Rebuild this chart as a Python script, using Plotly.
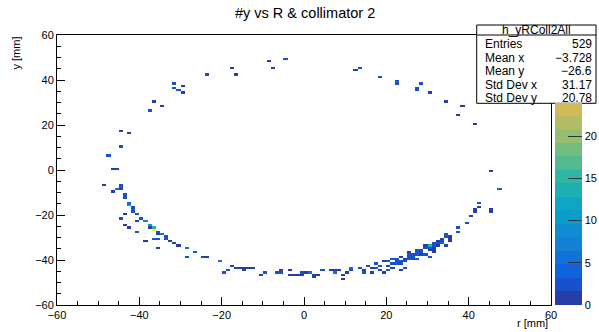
import plotly.graph_objects as go

# ---------------- data (bin centres in mm, bin contents) ----------------
BIN_X = [
    # upper-left arc
    -17.5, -23.5, -16.5, -8.5, -4.5, -7.5, -31.5, -29.5, -31.5, -30.5, -29.5, -36.5, -34.5, -37.5,
    -44.5, -42.5, -44.5, -47.5, -46.5, -45.5,
    # left side / lower-left
    -48.5, -44.5, -44.5, -44.5, -45.5, -46.5, -43.5, -43.5, -43.5, -42.5, -42.5, -41.5, -41.5, -41.5,
    -40.5, -43.5, -44.5, -39.5, -40.5, -38.5, -43.5, -42.5, -37.5, -37.5, -36.5, -36.5, -40.5, -35.5,
    -35.5, -34.5, -33.5, -33.5, -36.5, -35.5, -32.5, -31.5, -30.5, -38.5, -35.5, -28.5, -26.5, -28.5,
    -24.5, -23.5, -20.5,
    # bottom
    -17.5, -18.5, -19.5, -16.5, -15.5, -14.5, -13.5, -12.5, -14.5, -10.5, -9.5, -6.5, -5.5, -5.5,
    -3.5, -3.5, -2.5, -1.5, -0.5, -0.5, 0.5, 1.5, 2.5, 2.5, 3.5, 4.5, 6.5, 7.5, 8.5, 7.5, 9.5, 9.5,
    10.5, 11.5, 11.5, 13.5, 14.5, 14.5, 15.5, 16.5, 16.5,
    # lower-right dense band
    17.5, 17.5, 18.5, 18.5, 19.5, 19.5, 20.5, 20.5, 20.5, 21.5, 21.5, 21.5, 22.5, 22.5, 22.5,
    23.5, 23.5, 23.5, 23.5, 24.5, 24.5, 24.5, 25.5, 25.5, 25.5, 25.5, 26.5, 26.5, 26.5,
    27.5, 27.5, 27.5, 27.5, 28.5, 28.5, 28.5, 29.5, 29.5, 29.5, 30.5, 30.5, 30.5, 30.5,
    31.5, 31.5, 31.5, 31.5, 31.5, 32.5, 32.5, 32.5, 33.5, 33.5, 33.5, 34.5, 34.5, 34.5,
    35.5, 35.5, 35.5, 37.5, 37.5, 39.5, 40.5, 41.5, 41.5, 42.5, 42.5, 45.5, 45.5, 47.5, 45.5,
    # upper-right arc
    12.5, 13.5, 18.5, 22.5, 22.5, 28.5, 27.5, 27.5, 30.5, 34.5, 38.5, 37.5, 41.5,
]
BIN_Y = [
    45.5, 42.5, 42.5, 48.5, 49.5, 45.5, 38.5, 37.5, 36.5, 35.5, 34.5, 30.5, 28.5, 26.5,
    17.5, 16.5, 10.5, 6.5, 0.5, 0.5,
    -6.5, -6.5, -7.5, -8.5, -8.5, -9.5, -10.5, -11.5, -12.5, -14.5, -15.5, -16.5, -17.5, -18.5,
    -19.5, -19.5, -21.5, -21.5, -22.5, -22.5, -24.5, -25.5, -24.5, -25.5, -25.5, -26.5, -27.5, -27.5,
    -28.5, -28.5, -29.5, -30.5, -30.5, -30.5, -31.5, -32.5, -33.5, -31.5, -34.5, -34.5, -36.5, -38.5,
    -38.5, -38.5, -40.5,
    -42.5, -44.5, -45.5, -43.5, -43.5, -43.5, -43.5, -43.5, -44.5, -46.5, -45.5, -45.5, -45.5, -44.5,
    -44.5, -46.5, -46.5, -46.5, -46.5, -45.5, -45.5, -45.5, -47.5, -46.5, -46.5, -44.5, -44.5, -44.5, -44.5, -45.5, -46.5, -48.5,
    -45.5, -43.5, -44.5, -43.5, -44.5, -45.5, -42.5, -43.5, -45.5,
    -41.5, -43.5, -44.5, -42.5, -45.5, -40.5, -42.5, -44.5, -40.5, -43.5, -39.5, -41.5, -39.5, -40.5, -41.5,
    -44.5, -38.5, -40.5, -41.5, -43.5, -39.5, -40.5, -36.5, -37.5, -38.5, -39.5, -37.5, -38.5, -39.5,
    -35.5, -36.5, -37.5, -39.5, -35.5, -36.5, -37.5, -33.5, -34.5, -37.5, -33.5, -34.5, -35.5, -38.5,
    -32.5, -33.5, -34.5, -35.5, -36.5, -31.5, -32.5, -33.5, -30.5, -31.5, -32.5, -28.5, -29.5, -33.5,
    -29.5, -30.5, -31.5, -25.5, -27.5, -23.5, -20.5, -17.5, -18.5, -16.5, -14.5, -17.5, -18.5, -8.5, -0.5,
    44.5, 45.5, 41.5, 38.5, 39.5, 38.5, 35.5, 36.5, 34.5, 30.5, 28.5, 24.5, 20.5,
]
COUNTS = [
    1, 2, 1, 1, 2, 1, 2, 1, 2, 2, 1, 1, 1, 2,
    1, 1, 2, 2, 1, 1,
    1, 3, 2, 1, 5, 1, 3, 3, 2, 4, 9, 3, 3, 2,
    2, 1, 3, 3, 1, 7, 1, 1, 10, 1, 13, 31, 3, 3,
    1, 6, 2, 3, 3, 3, 1, 1, 1, 1, 1, 6, 3, 2,
    1, 1, 5,
    1, 2, 2, 1, 1, 1, 1, 1, 1, 1, 2, 2, 3, 1,
    1, 1, 1, 1, 1, 3, 1, 5, 1, 1, 1, 3, 1, 1, 1, 5, 1, 1,
    1, 5, 2, 2, 1, 2, 2, 1, 1,
    2, 2, 1, 2, 1, 1, 1, 2, 2, 1, 3, 3, 3, 3, 2,
    1, 1, 3, 2, 2, 1, 3, 1, 3, 3, 3, 3, 2, 3,
    3, 3, 2, 2, 3, 3, 1, 1, 2, 3, 13, 3, 1, 2,
    3, 3, 1, 1, 1, 1, 3, 1, 1, 3, 4, 2, 3, 1,
    1, 1, 1, 2, 2, 2, 1, 1, 1, 1, 2, 1, 1, 4, 1,
    1, 2, 2, 2, 2, 2, 2, 2, 1, 1, 1, 1, 1,
]

X_EDGES = (-60, 60)
Y_EDGES = (-60, 60)
NBINS = 120
Z_MAX = 32.0
N_CONTOURS = 20
AXIS_TICKS = [-60, -40, -20, 0, 20, 40, 60]
CBAR_TICKS = [0, 5, 10, 15, 20]

TITLE = "#y vs R & collimator 2"
STATS_NAME = "h_yRColl2All"
STATS_LABELS = ["Entries", "Mean x", "Mean y", "Std Dev x", "Std Dev y"]
STATS_VALUES = ["529", "\u22123.728", "\u221226.6", "31.17", "20.78"]

# ---------------- build grid ----------------
centres = [X_EDGES[0] + 0.5 + k for k in range(NBINS)]
ycentres = [Y_EDGES[0] + 0.5 + k for k in range(NBINS)]
z = [[None] * NBINS for _ in range(NBINS)]
for bx, by, c in zip(BIN_X, BIN_Y, COUNTS):
    i = int(bx - X_EDGES[0])
    j = int(by - Y_EDGES[0])
    z[j][i] = (z[j][i] or 0) + c

# ---------------- ROOT kBird palette, 20 contour bands ----------------
stops = [0.0000, 0.1250, 0.2500, 0.3750, 0.5000, 0.6250, 0.7500, 0.8750, 1.0000]
red = [0.2082, 0.0592, 0.0780, 0.0232, 0.1802, 0.5301, 0.8186, 0.9956, 0.9764]
green = [0.1664, 0.3599, 0.5041, 0.6419, 0.7178, 0.7492, 0.7328, 0.7862, 0.9832]
blue = [0.5293, 0.8684, 0.8385, 0.7914, 0.6425, 0.4662, 0.3499, 0.1968, 0.0539]


def bird(f):
    for k in range(len(stops) - 1):
        if f <= stops[k + 1]:
            t = (f - stops[k]) / (stops[k + 1] - stops[k])
            r = red[k] + t * (red[k + 1] - red[k])
            g = green[k] + t * (green[k + 1] - green[k])
            b = blue[k] + t * (blue[k + 1] - blue[k])
            return "rgb(%d,%d,%d)" % (round(r * 255), round(g * 255), round(b * 255))
    return "rgb(249,251,14)"


band_cols = [bird(int((i + 0.99) * 255 / N_CONTOURS) / 254) for i in range(N_CONTOURS)]
cscale = []
for i, col in enumerate(band_cols):
    cscale.append([i / N_CONTOURS, col])
    cscale.append([(i + 1) / N_CONTOURS, col])

# plot geometry (px)
W, H = 599, 332
ML, MR, MT, MB = 57, 48, 35, 27
PW, PH = W - ML - MR, H - MT - MB


def px_x(p):
    return (p - ML) / PW


def px_y(p):
    return (H - MB - p) / PH


# stats box geometry
BOX_L, BOX_R, BOX_T, BOX_B, BOX_LINE = 476.7, 596, 25, 103.3, 35

# truncated colour bar (part of the palette not hidden by the stats box)
vis_frac = px_y(BOX_B)
z_vis = Z_MAX * vis_frac
trunc = []
band_w = Z_MAX / N_CONTOURS
for i, col in enumerate(band_cols):
    lo, hi = i * band_w, (i + 1) * band_w
    if lo >= z_vis:
        break
    trunc.append([lo / z_vis, col])
    trunc.append([min(hi, z_vis) / z_vis, col])
trunc[-1][0] = 1.0

fig = go.Figure()
fig.add_trace(go.Heatmap(
    x=centres, y=ycentres, z=z, zmin=0, zmax=Z_MAX,
    colorscale=cscale, showscale=False, hoverinfo="skip", zsmooth=False,
))
fig.add_trace(go.Scatter(
    x=[None], y=[None], mode="markers", showlegend=False, hoverinfo="skip",
    marker=dict(color=[0], cmin=0, cmax=z_vis, colorscale=trunc, showscale=True,
                colorbar=dict(
                    x=px_x(555), xanchor="left", xpad=0, thickness=27,
                    y=0, yanchor="bottom", ypad=0, len=vis_frac, lenmode="fraction",
                    outlinewidth=0, tickvals=CBAR_TICKS, ticks="inside", ticklen=14,
                    tickcolor="#333", tickfont=dict(family="Liberation Sans", size=11, color="black"),
                )),
))

font = dict(family="Liberation Sans", size=11, color="black")
axis_common = dict(
    tickvals=AXIS_TICKS, ticks="inside", ticklen=8, tickcolor="black", tickwidth=1,
    showline=True, linecolor="black", linewidth=1, mirror=True,
    showgrid=False, zeroline=False, tickfont=font,
    minor=dict(dtick=5, ticks="inside", ticklen=4, tickcolor="black", showgrid=False),
)
fig.update_xaxes(range=list(X_EDGES), **axis_common)
fig.update_yaxes(range=list(Y_EDGES), **axis_common)

shapes = [
    dict(type="rect", xref="paper", yref="paper", x0=px_x(BOX_L), x1=px_x(BOX_R),
         y0=px_y(BOX_B), y1=px_y(BOX_T), line=dict(color="black", width=1),
         fillcolor="white", layer="above"),
    dict(type="line", xref="paper", yref="paper", x0=px_x(BOX_L), x1=px_x(BOX_R),
         y0=px_y(BOX_LINE), y1=px_y(BOX_LINE), line=dict(color="black", width=1), layer="above"),
]

ann = [
    dict(text=TITLE, xref="paper", yref="paper", x=px_x(305), y=px_y(12.5),
         xanchor="center", yanchor="middle", showarrow=False,
         font=dict(family="Liberation Sans", size=14.5, color="black")),
    dict(text="r [mm]", xref="paper", yref="paper", x=px_x(550), y=px_y(323),
         xanchor="right", yanchor="middle", showarrow=False, font=font),
    dict(text="y [mm]", xref="paper", yref="paper", x=px_x(15), y=px_y(35),
         xanchor="center", yanchor="top", showarrow=False, textangle=-90, font=font),
    dict(text=STATS_NAME, xref="paper", yref="paper", x=px_x((BOX_L + BOX_R) / 2), y=px_y(30),
         xanchor="center", yanchor="middle", showarrow=False,
         font=dict(family="Liberation Sans", size=12, color="black")),
]
row_y = [44, 57.7, 71.2, 84.7, 98]
for lab, val, ry in zip(STATS_LABELS, STATS_VALUES, row_y):
    ann.append(dict(text=lab, xref="paper", yref="paper", x=px_x(483), y=px_y(ry),
                    xanchor="left", yanchor="middle", showarrow=False,
                    font=dict(family="Liberation Sans", size=12, color="black")))
    ann.append(dict(text=val, xref="paper", yref="paper", x=px_x(594), y=px_y(ry),
                    xanchor="right", yanchor="middle", showarrow=False,
                    font=dict(family="Liberation Sans", size=12, color="black")))

fig.update_layout(
    width=W, height=H, margin=dict(l=ML, r=MR, t=MT, b=MB, pad=0, autoexpand=False),
    paper_bgcolor="white", plot_bgcolor="white",
    shapes=shapes, annotations=ann, showlegend=False,
)
fig.write_html("out.html")
